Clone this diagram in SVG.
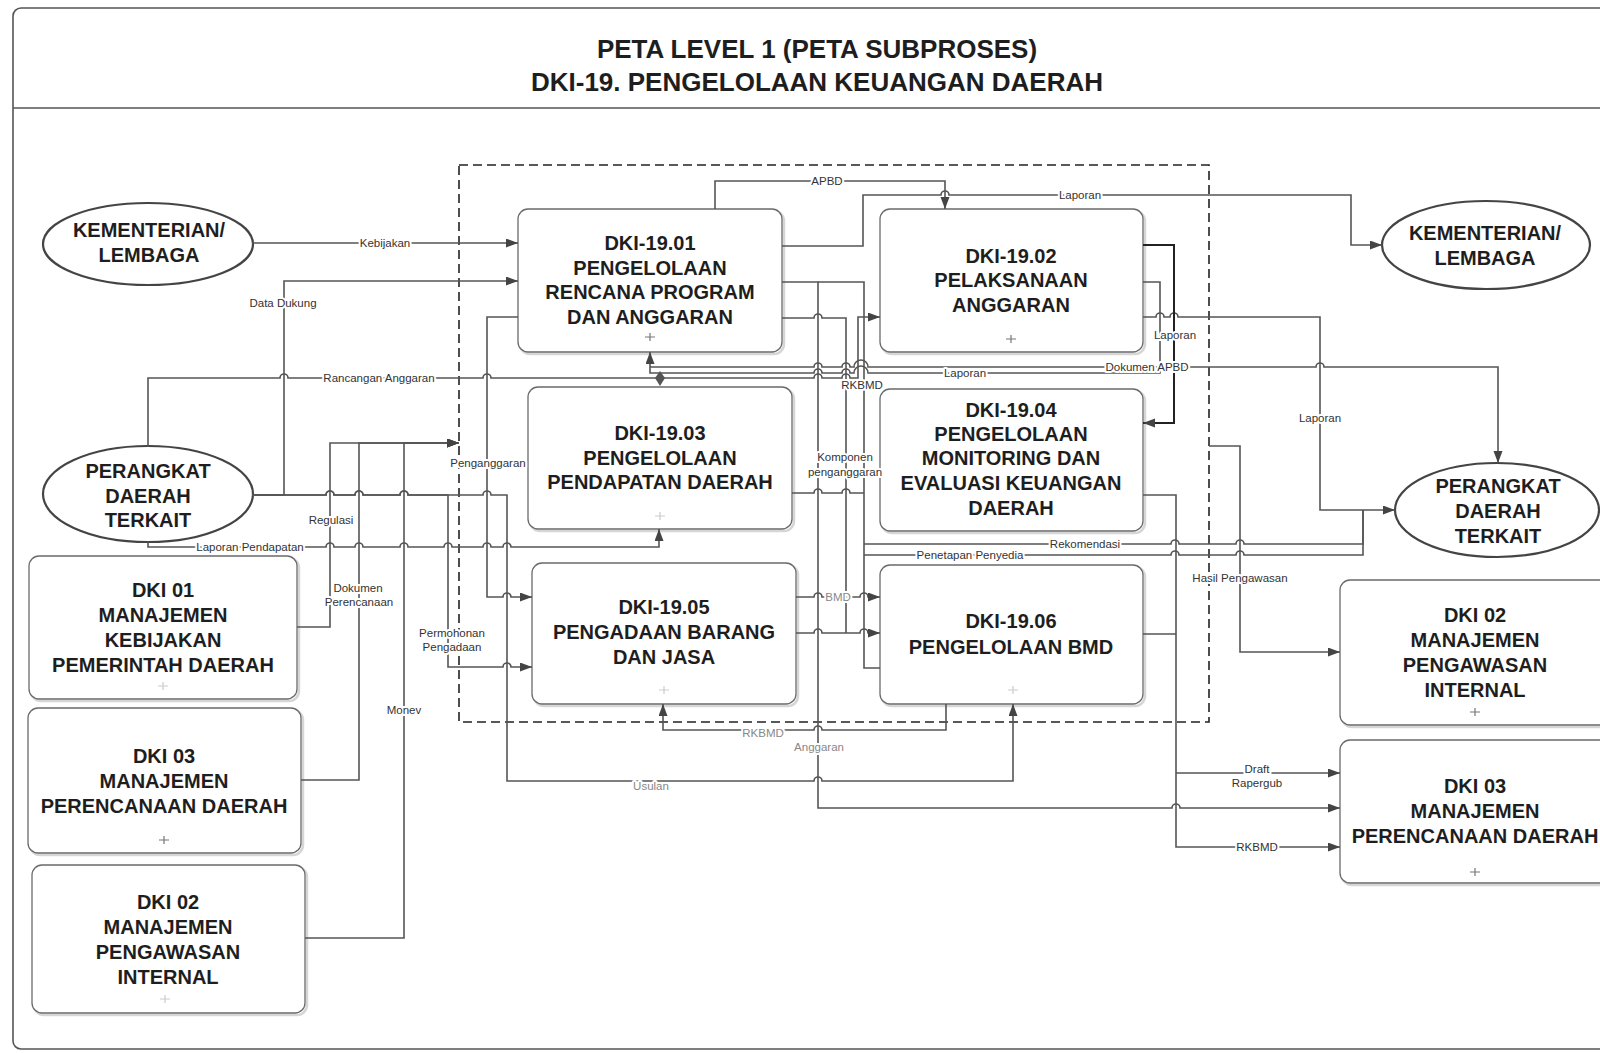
<svg xmlns="http://www.w3.org/2000/svg" width="1600" height="1053" viewBox="0 0 1600 1053">
<defs>
<marker id="ah" markerUnits="userSpaceOnUse" markerWidth="13" markerHeight="10" refX="12" refY="4.5" orient="auto">
<path d="M0,0 L12,4.5 L0,9 z" fill="#444"/>
</marker>
<style>
.frame{fill:#fff;stroke:#555;stroke-width:1.6}
.box{fill:#fff;stroke:#6a6a6a;stroke-width:1.3}
.sh{fill:none;stroke:#d6d6d6;stroke-width:2.5}
.ell{fill:#fff;stroke:#444;stroke-width:2.2}
.nt{font-family:"Liberation Sans",Arial,sans-serif;font-weight:bold;font-size:20px;fill:#1e1e1e;text-anchor:middle}
.tt{font-family:"Liberation Sans",Arial,sans-serif;font-weight:bold;font-size:26px;fill:#1e1e1e;text-anchor:middle}
.c{fill:none;stroke:#555;stroke-width:1.6}
.k{stroke:#222;stroke-width:2}
.a{marker-end:url(#ah)}
.dash{fill:none;stroke:#222;stroke-width:1.6;stroke-dasharray:9 5}
.lb{font-family:"Liberation Sans",Arial,sans-serif;font-size:11.5px;fill:#333;text-anchor:middle;stroke:#fff;stroke-width:4;paint-order:stroke;stroke-linejoin:round}
.lt{fill:#888}
.pl{stroke:#777;stroke-width:1.2}
</style>
</defs>

<rect class="frame" x="13" y="8" width="1620" height="1041" rx="8"/>
<line x1="13" y1="108" x2="1600" y2="108" stroke="#555" stroke-width="1.6"/>
<g id="title">
<text class="tt" x="817" y="58">PETA LEVEL 1 (PETA SUBPROSES)</text>
<text class="tt" x="817" y="91">DKI-19. PENGELOLAAN KEUANGAN DAERAH</text>
</g>

<rect class="dash" x="459" y="165" width="750" height="557"/>

<g id="nodes">
<g id="kl-left"><ellipse class="ell" cx="148" cy="244" rx="105" ry="41"/>
<text class="nt" x="149" y="237">KEMENTERIAN/</text><text class="nt" x="149" y="262">LEMBAGA</text></g>
<g id="pd-left"><ellipse class="ell" cx="148" cy="494" rx="105" ry="48"/>
<text class="nt" x="148" y="478">PERANGKAT</text><text class="nt" x="148" y="503">DAERAH</text><text class="nt" x="148" y="527">TERKAIT</text></g>
<g id="kl-right"><ellipse class="ell" cx="1486" cy="245" rx="104" ry="44"/>
<text class="nt" x="1485" y="240">KEMENTERIAN/</text><text class="nt" x="1485" y="265">LEMBAGA</text></g>
<g id="pd-right"><ellipse class="ell" cx="1497" cy="510" rx="102" ry="47"/>
<text class="nt" x="1498" y="493">PERANGKAT</text><text class="nt" x="1498" y="518">DAERAH</text><text class="nt" x="1498" y="543">TERKAIT</text></g>

<g id="dki01-left"><rect class="sh" x="31" y="558" width="268" height="143" rx="10"/><rect class="box" x="29" y="556" width="268" height="143" rx="10"/>
<text class="nt" x="163" y="597">DKI 01</text><text class="nt" x="163" y="622">MANAJEMEN</text><text class="nt" x="163" y="647">KEBIJAKAN</text><text class="nt" x="163" y="672">PEMERINTAH DAERAH</text></g>
<g id="dki03-left"><rect class="sh" x="30" y="710" width="273" height="145" rx="10"/><rect class="box" x="28" y="708" width="273" height="145" rx="10"/>
<text class="nt" x="164" y="763">DKI 03</text><text class="nt" x="164" y="788">MANAJEMEN</text><text class="nt" x="164" y="813">PERENCANAAN DAERAH</text></g>
<g id="dki02-left"><rect class="sh" x="34" y="867" width="273" height="148" rx="10"/><rect class="box" x="32" y="865" width="273" height="148" rx="10"/>
<text class="nt" x="168" y="909">DKI 02</text><text class="nt" x="168" y="934">MANAJEMEN</text><text class="nt" x="168" y="959">PENGAWASAN</text><text class="nt" x="168" y="984">INTERNAL</text></g>

<g id="dki-19-01"><rect class="sh" x="520" y="211" width="264" height="143" rx="10"/><rect class="box" x="518" y="209" width="264" height="143" rx="10"/>
<text class="nt" x="650" y="250">DKI-19.01</text><text class="nt" x="650" y="274.5">PENGELOLAAN</text><text class="nt" x="650" y="299">RENCANA PROGRAM</text><text class="nt" x="650" y="323.5">DAN ANGGARAN</text></g>
<g id="dki-19-02"><rect class="sh" x="882" y="211" width="263" height="143" rx="10"/><rect class="box" x="880" y="209" width="263" height="143" rx="10"/>
<text class="nt" x="1011" y="263">DKI-19.02</text><text class="nt" x="1011" y="287">PELAKSANAAN</text><text class="nt" x="1011" y="312">ANGGARAN</text></g>
<g id="dki-19-03"><rect class="sh" x="530" y="389" width="264" height="142" rx="10"/><rect class="box" x="528" y="387" width="264" height="142" rx="10"/>
<text class="nt" x="660" y="440">DKI-19.03</text><text class="nt" x="660" y="465">PENGELOLAAN</text><text class="nt" x="660" y="489">PENDAPATAN DAERAH</text></g>
<g id="dki-19-04"><rect class="sh" x="882" y="391" width="263" height="142" rx="10"/><rect class="box" x="880" y="389" width="263" height="142" rx="10"/>
<text class="nt" x="1011" y="417">DKI-19.04</text><text class="nt" x="1011" y="441">PENGELOLAAN</text><text class="nt" x="1011" y="465">MONITORING DAN</text><text class="nt" x="1011" y="490">EVALUASI KEUANGAN</text><text class="nt" x="1011" y="515">DAERAH</text></g>
<g id="dki-19-05"><rect class="sh" x="534" y="565" width="264" height="141" rx="10"/><rect class="box" x="532" y="563" width="264" height="141" rx="10"/>
<text class="nt" x="664" y="614">DKI-19.05</text><text class="nt" x="664" y="639">PENGADAAN BARANG</text><text class="nt" x="664" y="664">DAN JASA</text></g>
<g id="dki-19-06"><rect class="sh" x="882" y="567" width="263" height="139" rx="10"/><rect class="box" x="880" y="565" width="263" height="139" rx="10"/>
<text class="nt" x="1011" y="628">DKI-19.06</text><text class="nt" x="1011" y="654">PENGELOLAAN BMD</text></g>

<g id="dki02-right"><rect class="sh" x="1342" y="582" width="270" height="145" rx="10"/><rect class="box" x="1340" y="580" width="270" height="145" rx="10"/>
<text class="nt" x="1475" y="622">DKI 02</text><text class="nt" x="1475" y="647">MANAJEMEN</text><text class="nt" x="1475" y="672">PENGAWASAN</text><text class="nt" x="1475" y="697">INTERNAL</text></g>
<g id="dki03-right"><rect class="sh" x="1342" y="742" width="270" height="143" rx="10"/><rect class="box" x="1340" y="740" width="270" height="143" rx="10"/>
<text class="nt" x="1475" y="793">DKI 03</text><text class="nt" x="1475" y="818">MANAJEMEN</text><text class="nt" x="1475" y="843">PERENCANAAN DAERAH</text></g>

<g id="markers-plus" class="pl">
<path d="M645,337 h10 M650,333 v8"/>
<path d="M1006,339 h10 M1011,335 v8"/>
<path d="M159,840 h10 M164,836 v8"/>
<path d="M1470,712 h10 M1475,708 v8"/>
<path d="M1470,872 h10 M1475,868 v8"/>
<path d="M655,516 h10 M660,512 v8" stroke="#ccc"/>
<path d="M659,690 h10 M664,686 v8" stroke="#ccc"/>
<path d="M1008,690 h10 M1013,686 v8" stroke="#ccc"/>
<path d="M160,999 h10 M165,995 v8" stroke="#ccc"/>
<path d="M158,686 h10 M163,682 v8" stroke="#ccc"/>
</g>
</g>

<g id="connectors">
<path class="c a" d="M252,243 H518"/>
<path class="c a" d="M252,495 H284 V281 H518"/>
<path class="c a" d="M148,447 V378 H280 a4,4 0 0 1 8,0 H483 a4,4 0 0 1 8,0 H814 a4,4 0 0 1 8,0 H842 a4,4 0 0 1 8,0 H858 V317 H880"/>
<polygon points="660,371 665,378 660,386 655,378" fill="#555"/>
<path class="c a" d="M297,627 H330 V443 H459"/>
<path class="c a" d="M301,780 H359 V443 H459"/>
<path class="c a" d="M305,938 H404 V443 H459"/>
<path class="c a" d="M148,542 V547 H326 a4,4 0 0 1 8,0 H355 a4,4 0 0 1 8,0 H400 a4,4 0 0 1 8,0 H444 a4,4 0 0 1 8,0 H483 a4,4 0 0 1 8,0 H503 a4,4 0 0 1 8,0 H659 V529"/>
<path class="c a" d="M252,495 H326 a4,4 0 0 1 8,0 H355 a4,4 0 0 1 8,0 H400 a4,4 0 0 1 8,0 H448 V667 H503 a4,4 0 0 1 8,0 H532"/>
<path class="c a" d="M252,495 H326 a4,4 0 0 1 8,0 H355 a4,4 0 0 1 8,0 H400 a4,4 0 0 1 8,0 H483 a4,4 0 0 1 8,0 H507 V781 H814 a4,4 0 0 1 8,0 H1013 V704"/>
<path class="c a" d="M518,317 H487 V597 H503 a4,4 0 0 1 8,0 H532"/>
<path class="c a" d="M715,209 V181 H945 V209"/>
<path class="c a" d="M782,246 H863 V195 H941 a4,4 0 0 1 8,0 H1351 V245 H1382"/>
<path class="c a" d="M782,282 H818 V808 H1172 a4,4 0 0 1 8,0 H1340"/>
<path class="c" d="M880,668 H864 V282 H818"/>
<path class="c" d="M782,318 H814 a4,4 0 0 1 8,0 H846 V633"/>
<path class="c a" d="M796,597 H814 a4,4 0 0 1 8,0 H860 a4,4 0 0 1 8,0 H880"/>
<path class="c a" d="M796,633 H814 a4,4 0 0 1 8,0 H860 a4,4 0 0 1 8,0 H880"/>
<path class="c" d="M792,493 H814 a4,4 0 0 1 8,0 H842 a4,4 0 0 1 8,0 H864"/>
<path class="c" d="M864,544 H1171 a4,4 0 0 1 8,0 H1236 a4,4 0 0 1 8,0 H1363 V510"/>
<path class="c" d="M864,555 H1171 a4,4 0 0 1 8,0 H1236 a4,4 0 0 1 8,0 H1363 V510"/>
<path class="c a" d="M1143,317 H1156 a4,4 0 0 1 8,0 H1170 a4,4 0 0 1 8,0 H1320 V510 H1395"/>
<path class="c k a" d="M1143,245 H1174 V423 H1143"/>
<path class="c a" d="M1143,282 H1160 V373 H868 a7,7 0 0 0 -14,0 H850 a4,4 0 0 0 -8,0 H822 a4,4 0 0 0 -8,0 H650 V352"/>
<path class="c a" d="M650,367 H814 a4,4 0 0 1 8,0 H842 a4,4 0 0 1 8,0 H854 a7,7 0 0 1 14,0 H1316 a4,4 0 0 1 8,0 H1498 V463"/>
<path class="c a" d="M1143,495 H1176 V847 H1340"/>
<path class="c a" d="M1176,773 H1340"/>
<path class="c" d="M1143,634 H1176"/>
<path class="c a" d="M1209,446 H1240 V652 H1340"/>
<path class="c a" d="M946,704 V730 H822 a4,4 0 0 0 -8,0 H663 V704"/>

<g id="labels">
<text class="lb" x="385" y="247">Kebijakan</text>
<text class="lb" x="283" y="307">Data Dukung</text>
<text class="lb" x="379" y="382">Rancangan Anggaran</text>
<text class="lb" x="488" y="467">Penganggaran</text>
<text class="lb" x="331" y="524">Regulasi</text>
<text class="lb" x="250" y="551">Laporan Pendapatan</text>
<text class="lb" x="358" y="592">Dokumen</text>
<text class="lb" x="359" y="606">Perencanaan</text>
<text class="lb" x="452" y="637">Permohonan</text>
<text class="lb" x="452" y="651">Pengadaan</text>
<text class="lb" x="404" y="714">Monev</text>
<text class="lb lt" x="651" y="790">Usulan</text>
<text class="lb lt" x="763" y="737">RKBMD</text>
<text class="lb lt" x="819" y="751">Anggaran</text>
<text class="lb lt" x="838" y="601">BMD</text>
<text class="lb" x="845" y="461">Komponen</text>
<text class="lb" x="845" y="476">penganggaran</text>
<text class="lb" x="862" y="389">RKBMD</text>
<text class="lb" x="827" y="185">APBD</text>
<text class="lb" x="1080" y="199">Laporan</text>
<text class="lb" x="965" y="377">Laporan</text>
<text class="lb" x="1147" y="371">Dokumen APBD</text>
<text class="lb" x="1175" y="339">Laporan</text>
<text class="lb" x="1320" y="422">Laporan</text>
<text class="lb" x="1085" y="548">Rekomendasi</text>
<text class="lb" x="970" y="559">Penetapan Penyedia</text>
<text class="lb" x="1240" y="582">Hasil Pengawasan</text>
<text class="lb" x="1257" y="773">Draft</text>
<text class="lb" x="1257" y="787">Rapergub</text>
<text class="lb" x="1257" y="851">RKBMD</text>
</g>
</g>
</svg>
